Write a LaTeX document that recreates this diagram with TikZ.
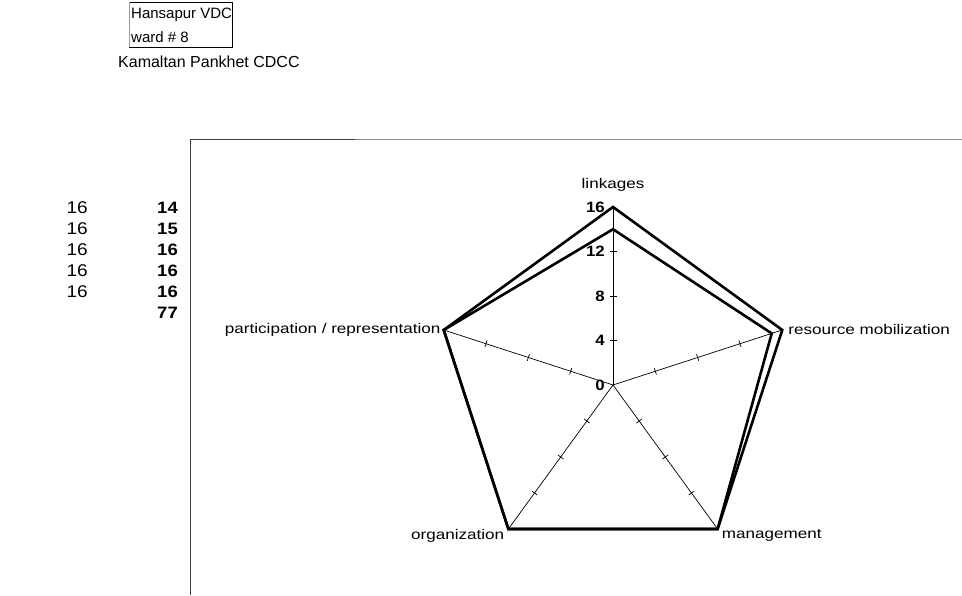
\documentclass[tikz,border=0pt]{standalone}
\usepackage{fontspec}
\setmainfont{Liberation Sans}
\newfontfamily\labfont[FakeStretch=1.22]{Liberation Sans}
\newfontfamily\numfont[FakeStretch=1.12]{Liberation Sans}
\newfontfamily\headfont{Liberation Sans}
\begin{document}
\begin{tikzpicture}[x=1pt,y=1pt,
  lab/.style={font=\labfont\fontsize{14}{16}\selectfont, inner sep=1pt},
  axnum/.style={font=\numfont\bfseries\fontsize{15}{17}\selectfont, inner sep=1pt, anchor=east},
  tabnum/.style={font=\numfont\fontsize{17}{19}\selectfont, inner sep=0pt, anchor=east},
  tabnumb/.style={tabnum, font=\numfont\bfseries\fontsize{16.5}{19}\selectfont},
  head/.style={font=\headfont\fontsize{15}{17}\selectfont, inner sep=0pt, anchor=west},
  axisline/.style={line width=0.7pt, black},
  series/.style={line width=2.6pt, black, line join=miter},
  frame/.style={line width=0.9pt, black!75}]
\useasboundingbox (0,0) rectangle (962,595);
% header box
\draw[line width=0.8pt] (129,593) -- (232,593) -- (232,548) -- (129,548);
\draw[line width=0.5pt, black!40] (129,593) -- (129,548);
\node[head] (h1) at (131,580) {Hansapur VDC};
\node[head] (h2) at (131,558) {ward \# 8};
\node[head, font=\headfont\fontsize{16}{18}\selectfont] (h3) at (118,533) {Kamaltan Pankhet CDCC};
% table
\foreach \v [count=\i] in {16,16,16,16,16} {
  \node[tabnum] (c1\i) at (88,{408-21*\i}) {\v};
}
\foreach \v [count=\i] in {14,15,16,16,16,77} {
  \node[tabnumb] (c2\i) at (178,{408-21*\i}) {\v};
}
% frame
\coordinate (F0) at (190,0);
\coordinate (F1) at (190,456);
\coordinate (F3) at (355,456);
\coordinate (F2) at (962,456);
\draw[frame] (F0) -- (F1) -- (F3);
\draw[line width=0.9pt, black!45] (F3) -- (F2);
% radar
\coordinate (O) at (613,210);
\def\u{11.125}
\foreach \a [count=\i] in {90,18,-54,-126,162} {
  \coordinate (A\i) at ([shift={(\a:178)}]O);
  \draw[axisline] (O) -- (A\i);
  \foreach \r in {4,8,12} {
    \draw[axisline] ([shift={(\a:{\r*\u})}]O) ++(\a+90:3.5) -- ++(\a-90:7);
  }
}
\coordinate (B1) at ([shift={(90:{14*\u})}]O);
\coordinate (B2) at ([shift={(18:{15*\u})}]O);
\coordinate (B3) at ([shift={(-54:{16*\u})}]O);
\coordinate (B4) at ([shift={(-126:{16*\u})}]O);
\coordinate (B5) at ([shift={(162:{16*\u})}]O);
\draw[series] (A1) -- (A2) -- (A3) -- (A4) -- (A5) -- cycle;
\draw[series] (B1) -- (B2) -- (B3) -- (B4) -- (B5) -- cycle;
% axis numbers
\foreach \v in {0,4,8,12,16} {
  \node[axnum] (n\v) at ([shift={(-7,{\v*\u})}]O) {\v};
}
% axis labels
\node[lab, anchor=south] (l1) at ([yshift=14]A1) {linkages};
\node[lab, anchor=west] (l2) at ([xshift=5]A2) {resource mobilization};
\node[lab, anchor=north west] (l3) at ([xshift=3,yshift=1]A3) {management};
\node[lab, anchor=north east] (l4) at ([xshift=-3,yshift=1]A4) {organization};
\node[lab, anchor=east] (l5) at ([xshift=-2]A5) {participation / representation};
\end{tikzpicture}
\end{document}
